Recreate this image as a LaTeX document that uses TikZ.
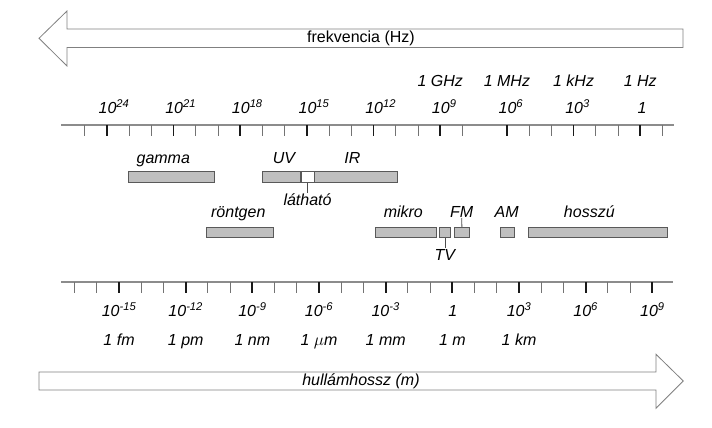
\documentclass[tikz,border=0pt]{standalone}
\usepackage{fontspec}
\setmainfont{Liberation Sans}
\usetikzlibrary{positioning}

\begin{document}
\begin{tikzpicture}[
    x=1pt, y=-1pt,
    axis line/.style={line width=2pt, black!45},
    minor tick/.style={line width=0.9pt, black!55},
    major tick/.style={line width=1.8pt, black!90},
    band/.style={
        draw=black!65,
        fill=black!25,
        line width=0.8pt,
        minimum height=10.5pt,
        inner sep=0pt,
        anchor=west,
    },
    lbl/.style={font=\fontsize{16}{18}\selectfont\itshape, inner sep=1pt},
    title/.style={font=\fontsize{16}{18}\selectfont, inner sep=1pt},
    leader/.style={line width=0.8pt, black!70},
    wide arrow/.style={draw=black!50, line width=0.8pt, fill=white},
]
\useasboundingbox (0,0) rectangle (712,428);

% --- Frequency arrow (top, pointing left) ---
\draw[wide arrow] (683,29) -- (67,29) -- (67,11) -- (39,38.3) -- (67,66)
    -- (67,47.5) -- (683,47.5) -- cycle;
\node[title] (freq) at (361,38.3) {frekvencia (Hz)};

% --- Frequency scale ---
\coordinate (fa) at (61,125);
\coordinate (fb) at (674,125);
\draw[axis line] (fa) -- (fb);
\foreach \k in {0,...,26} {
    \pgfmathsetmacro{\xk}{84.7+22.222*\k}
    \pgfmathtruncatemacro{\kmod}{mod(\k,3)}
    \ifnum\k=18 \else
        \ifnum\kmod=1
            \draw[major tick] (\xk,125) -- ++(0,11);
        \else
            \draw[minor tick] (\xk,125) -- ++(0,11);
        \fi
    \fi
}
\foreach \e/\k in {24/1, 21/4, 18/7, 15/10, 12/13, 9/16, 6/19, 3/22} {
    \node[lbl, anchor=base west] (f\e) at ({84.7+22.222*\k-9.5},113.5) {10\textsuperscript{\e}};
}
\node[lbl, anchor=base] (f0) at (642,113.5) {1};
\foreach \u/\k in {GHz/16, MHz/19, kHz/22, Hz/25} {
    \node[lbl, anchor=base] (u\u) at ({84.7+22.222*\k},86) {1 \u};
}

% --- Bands, first row ---
\node[band, minimum width=86pt] (gamma) at (128.3,177) {};
\node[band, minimum width=38.3pt] (uv) at (261.7,177) {};
\node[band, minimum width=12.7pt, fill=white, right=0pt of uv] (vis) {};
\node[band, minimum width=82.3pt, right=0pt of vis] (ir) {};

\node[lbl, anchor=base] (gammalbl) at (163.3,163) {gamma};
\node[lbl, anchor=base] (uvlbl) at (284,163) {UV};
\node[lbl, anchor=base] (irlbl) at (352.3,163) {IR};
\node[lbl, below=10pt of vis] (vislbl) {látható};
\draw[leader] (vis.south) -- (vislbl.north);

% --- Bands, second row ---
\node[band, minimum width=66.7pt] (xray) at (206,232.3) {};
\node[band, minimum width=61pt] (micro) at (375,232.5) {};
\node[band, minimum width=11pt] (tv) at (439,232.5) {};
\node[band, minimum width=14.4pt] (fm) at (454.3,232.5) {};
\node[band, minimum width=14.3pt] (am) at (500,232.5) {};
\node[band, minimum width=139pt] (long) at (527.7,232.5) {};

\node[lbl, anchor=base] (xraylbl) at (238.3,217) {röntgen};
\node[lbl, anchor=base] (microlbl) at (403.3,217) {mikro};
\node[lbl, anchor=base] (fmlbl) at (461.7,217) {FM};
\node[lbl, anchor=base] (amlbl) at (506.7,217) {AM};
\node[lbl, anchor=base] (longlbl) at (589.3,217) {hosszú};
\node[lbl, below=10pt of tv] (tvlbl) {TV};
\draw[leader] (tv.south) -- (tvlbl.north);
\draw[leader] (fm.north) -- (fmlbl.south);

% --- Wavelength scale ---
\coordinate (wa) at (61,282.3);
\coordinate (wb) at (673,282.3);
\draw[axis line] (wa) -- (wb);
\foreach \k in {0,...,26} {
    \pgfmathsetmacro{\xk}{74.6+22.222*\k}
    \pgfmathtruncatemacro{\kmod}{mod(\k,3)}
    \ifnum\kmod=2
        \draw[major tick] (\xk,282.3) -- ++(0,11);
    \else
        \draw[minor tick] (\xk,282.3) -- ++(0,11);
    \fi
}
\foreach \e/\k in {-15/2, -12/5, -9/8, -6/11, -3/14, 3/20, 6/23, 9/26} {
    \node[lbl, anchor=base] (w\e) at ({74.6+22.222*\k},316.5) {10\textsuperscript{\e}};
}
\node[lbl, anchor=base] (w0) at (452.9,316.5) {1};
\foreach \u/\k in {fm/2, pm/5, nm/8, {$\mu$m}/11, mm/14, m/17, km/20} {
    \node[lbl, anchor=base] (l\k) at ({74.6+22.222*\k},345) {1 \u};
}

% --- Wavelength arrow (bottom, pointing right) ---
\draw[wide arrow] (39,372) -- (656,372) -- (656,354.3) -- (683.3,381) -- (656,408.3)
    -- (656,390) -- (39,390) -- cycle;
\node[lbl] (wave) at (361,381) {hullámhossz (m)};

\end{tikzpicture}
\end{document}
